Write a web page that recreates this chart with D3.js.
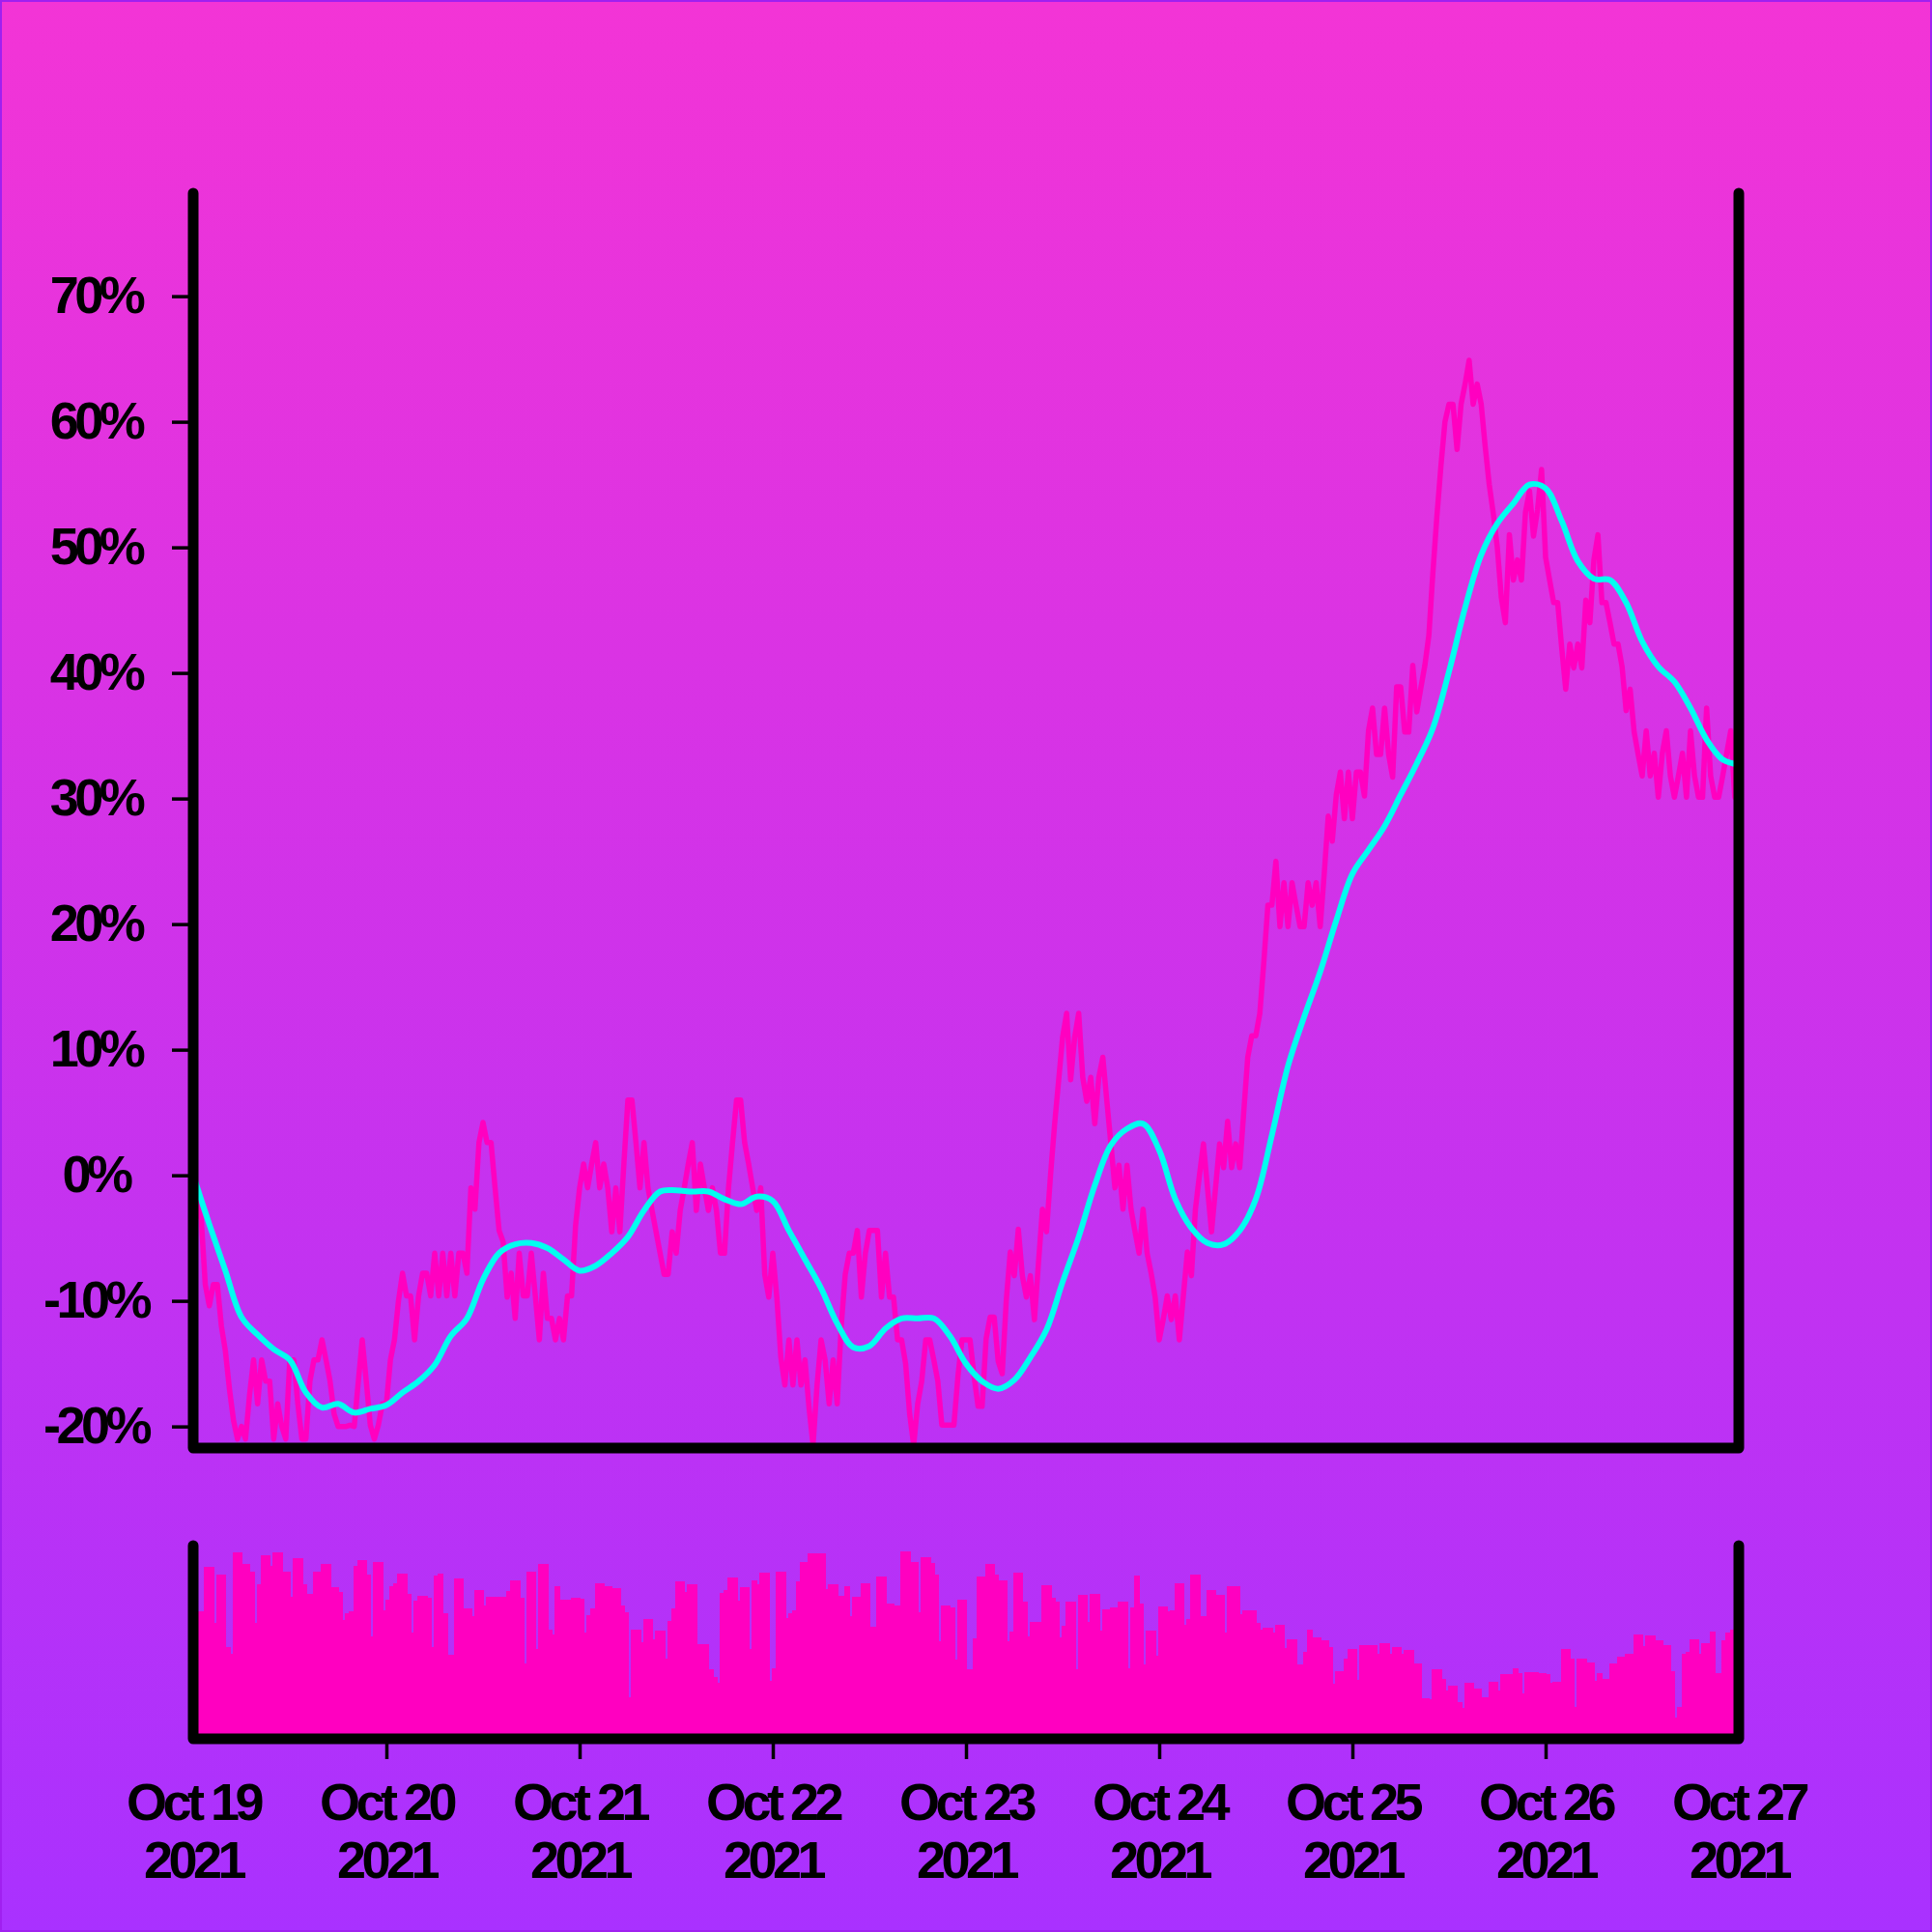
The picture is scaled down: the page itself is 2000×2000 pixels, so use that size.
<!DOCTYPE html>
<html><head><meta charset="utf-8">
<script src="https://cdn.jsdelivr.net/npm/d3@7"></script>
<style>html,body{margin:0;padding:0;background:#fff}</style>
</head><body>
<svg id="chart" width="2000" height="2000"></svg>
<script>
// ---- DATA (half-hourly, Oct 19 2021 00:00 UTC -> Oct 27 2021 00:00 UTC) ----
const startDate = Date.UTC(2021, 9, 19);
const endDate = Date.UTC(2021, 9, 27);
const stepMs = 30 * 60 * 1000;

// % change vs start, every 30 minutes (385 points)
const priceChange = [
0,-2.5,-3.5,-8.7,-10.4,-8.7,-8.7,-12.0,-14.0,-17.0,
-19.5,-21.0,-20.0,-21.0,-17.5,-14.7,-18.2,-14.7,-16.4,-16.4,
-21.0,-18.2,-20.0,-21.0,-14.7,-14.7,-18.2,-21.0,-21.0,-16.4,
-14.7,-14.7,-13.1,-14.7,-16.4,-19.0,-20.0,-20.0,-20.0,-19.9,
-20.0,-16.5,-13.1,-16.4,-19.9,-21.0,-19.9,-18.2,-18.2,
-14.7,-13.1,-10.0,-7.8,-9.6,-9.6,-13.1,-9.6,-7.8,-7.8,
-9.6,-6.2,-9.6,-6.2,-9.6,-6.2,-9.6,-6.2,-6.2,-7.8,
-1.0,-2.7,2.6,4.2,2.6,2.6,-1.0,-4.4,-5.3,-9.7,
-7.8,-11.4,-6.2,-9.6,-9.6,-6.2,-9.6,-13.1,-7.8,-11.4,
-11.4,-13.1,-11.4,-13.1,-9.6,-9.6,-4.0,-1.0,
0.9,-1.0,0.9,2.6,-1.0,0.9,-1.0,-4.5,-1.0,-4.5,
0.9,6.0,6.0,2.6,-1.0,2.6,-1.0,-2.8,-4.5,-6.2,
-7.9,-7.9,-4.5,-6.2,-2.8,-1.0,0.9,2.6,-2.8,0.9,
-1.0,-2.8,-1.0,-2.8,-6.2,-6.2,-1.0,2.6,6.0,6.0,
2.6,0.9,-1.0,-2.8,-1.0,-7.9,-9.7,-6.2,-9.7,-14.5,
-16.7,-13.1,-16.7,-13.1,-16.7,-14.7,-18.5,-21.5,-16.7,-13.1,
-14.7,-18.2,-14.7,-18.2,-12.0,-7.9,-6.2,-6.2,-4.4,-9.7,
-6.2,-4.4,-4.4,-4.4,-9.7,-6.2,-9.7,-9.7,-13.1,-13.1,
-15.0,-19.0,-21.5,-18.2,-16.4,-13.1,-13.1,-14.7,-16.4,-19.9,
-19.9,-19.9,-19.9,-16.0,-13.1,-13.1,
-13.1,-16.0,-18.4,-18.4,-13.0,-11.3,-11.3,-14.8,-15.8,-10.0,
-6.1,-8.0,-4.3,-8.0,-9.7,-8.0,-11.5,-7.0,-2.7,-4.5,
0.0,4.0,7.5,11.0,12.9,7.6,11.0,12.9,7.8,5.9,
7.8,4.1,7.8,9.4,5.9,2.5,-1.0,0.8,-2.7,0.8,
-2.7,-4.5,-6.2,-2.7,-6.2,-7.8,-9.7,-13.1,-11.5,-9.6,
-11.5,-9.6,-13.1,-9.6,-6.1,-8.0,-2.7,0.0,2.5,-1.0,
-4.5,-1.0,2.5,0.6,4.3,0.6,2.5,0.6,5.0,9.4,
11.1,11.1,12.9,17.0,21.5,21.5,25.0,19.8,23.3,19.8,
23.3,21.5,19.8,19.8,23.3,21.5,23.3,19.8,24.0,28.6,
26.6,30.3,
32.1,28.4,32.1,28.4,32.1,32.1,30.2,35.4,37.2,33.5,
33.5,37.2,33.5,31.7,38.9,38.9,
35.3,35.3,40.6,36.9,38.8,40.6,43.0,48.0,52.5,56.5,
60.0,61.4,61.4,57.8,61.4,63.0,64.9,61.4,63.0,61.4,
58.0,55.0,52.7,50.0,46.0,44.0,51.0,47.4,49.0,47.4,
52.8,54.5,50.9,53.0,56.2,49.2,47.4,45.6,45.6,42.0,
38.7,42.3,40.4,42.3,40.4,45.8,44.0,49.0,51.0,45.6,
45.6,44.0,42.3,42.3,40.5,37.0,38.7,35.3,33.5,31.8,
35.4,31.8,33.6,30.1,33.6,35.4,31.8,30.1,31.8,33.6,
30.1,35.4,31.8,30.1,30.1,37.2,31.8,30.1,30.1,31.8,
33.6,35.4,30.1,31.8
];

// smoothed % change, every 2 hours (97 points)
const maStepMs = 2 * 60 * 60 * 1000;
const movingAverage = [
0,-3.9,-7.6,-11.3,-12.7,-13.85,-14.7,-17.3,-18.5,-18.2,
-18.9,-18.6,-18.3,-17.3,-16.4,-15.1,-12.8,-11.4,-8.3,-6.2,
-5.5,-5.4,-5.8,-6.7,-7.6,-7.2,-6.2,-4.9,-2.8,-1.3,
-1.2,-1.3,-1.3,-1.9,-2.3,-1.7,-2.05,-4.4,-6.7,-9.0,
-11.8,-13.7,-13.6,-12.2,-11.4,-11.4,-11.4,-12.8,-15.0,-16.4,
-17.0,-16.3,-14.5,-12.3,-8.5,-4.9,-0.8,2.4,3.7,4.1,
2.0,-1.9,-4.2,-5.4,-5.5,-4.4,-1.9,3.2,8.7,12.6,
16.2,20.3,24.0,25.9,27.8,30.3,32.8,35.6,40.1,45.2,
49.4,51.9,53.5,55.0,54.7,52.1,48.9,47.5,47.4,45.6,
42.5,40.5,39.3,37.2,34.7,33.1,32.7
];

// volume (arbitrary units), per 30-minute interval (384 bars)
const volume = [
65.8,65.8,65.8,89.2,89.2,60,85,85,47.5,44.2,
96.7,96.7,90.3,90.3,86.7,60,80,95,95,89.7,
96.3,96.3,86.3,86.3,73.7,93.7,93.7,80,75,75,
86.3,86.3,90.3,90.3,78.7,78.7,75.8,61.7,65,65.8,
89.7,92.5,92.5,85,53,91.7,91.7,66.7,72,79.2,
80.3,85.5,85.5,75,55,71.3,74.2,74.2,73,47.5,
84.5,85.5,65,43.3,43.3,82.8,82.8,67.5,67.5,63.3,
77,77,68.8,73.3,73.3,73.7,73.7,73.7,76.7,82,
82,72.8,39.2,86.7,86.7,46.7,90.5,90.5,56.7,54.2,
78.8,72,72,72,72.8,72.8,72.5,55,64.2,67.5,
80.3,80.3,78.8,78.8,78,78,69.2,65.3,21.3,56.7,
56.7,50,62.2,62.2,51.7,55.8,56.2,41.3,61.2,67.5,
81.3,81.3,76.2,80,80,49.2,49.2,48.8,35.8,32.2,
29.2,75.3,77,83.3,83.3,71.3,78.3,78.3,46.7,82,
80,85.8,85.8,30,36.7,86.7,86.7,62.5,65,66.7,
81.7,91.7,91.7,95.8,95.8,95.8,95.8,77.5,80,80,
74.2,74.2,78.8,63.3,73.7,73.7,80.3,80.3,57.8,57.8,
84.2,84.2,70,70,69.2,69.2,97,97,91.3,91.3,
65.5,93.8,93.8,91.2,85,50.3,69.2,69.2,68,40.8,
72,72,36.2,36.2,52,84.2,84.2,90.5,90.5,85,
82.2,82.2,50.5,55.5,85.8,85.8,71,53,60.5,60.5,
60.5,79.5,79.5,73,71,52.5,58.3,71,71,36.2,
74.3,74.3,60.7,75.2,75.2,56.2,67,67,68,68,
71,71,36.7,68,84.5,70,38.3,56,56,43,
68.5,68.5,66,66.7,80.5,80.5,59.2,62,85,85,
63.3,63.3,77.2,77.2,74.5,74.5,55,79.2,79.2,79.2,
64.5,66.3,66.3,66.3,60,56.7,57.5,57.5,55,59.2,
59.2,47,51.7,51.7,38.3,38.3,45,56.7,52.5,52.5,
50.8,50.8,47.5,28.3,35,35,41.7,46.7,46.7,30.3,
48.7,48.7,48.7,48.7,43.8,49.5,49.5,43.8,47.5,47.5,
44.2,45.8,45.8,39.2,39.2,20.8,20.8,20.3,36.2,36.2,
30.8,25,27.5,27.5,19.2,15.8,28.8,28.8,26.2,26.2,
21.7,21.7,29.7,29.7,25,33.7,33.7,33.7,36.7,34.2,
23.3,34.5,34.5,34.5,34.2,34.2,33.3,29.2,29.7,29.7,
46.7,46.7,41.7,16.7,41.7,41.7,39.5,39.5,30,33.8,
31.2,31.2,39.2,39.2,42.5,42.5,44.2,44.2,54.2,54.2,
48,53.7,53.7,50.8,50.8,48.3,48.3,35,10.8,16.7,
44.2,45,51.3,51.3,44.2,49.5,49.5,55.3,34.2,34.2,
50.8,55,56.7,56.7
];

const yTickValues = [-20,-10,0,10,20,30,40,50,60,70];
const volumeMax = 100;

// ---- DRAWING ----
const W = 2000, H = 2000;
const m = {left: 200, right: 1800, top: 200, bottom: 1499};
const vol = {top: 1600, bottom: 1800};
const pink = "#ff00c0", cyan = "#00fff0";
const fontFamily = "'Liberation Sans', Arial, Helvetica, sans-serif";

const svg = d3.select("#chart");
const defs = svg.append("defs");
const grad = defs.append("linearGradient").attr("id","bg").attr("x1",0).attr("y1",0).attr("x2",0).attr("y2",1);
grad.append("stop").attr("offset","0%").attr("stop-color","#f334d6");
grad.append("stop").attr("offset","100%").attr("stop-color","#a931ff");
defs.append("clipPath").attr("id","plotClip").append("rect")
  .attr("x", m.left).attr("y", m.top).attr("width", m.right-m.left).attr("height", m.bottom-m.top);
defs.append("clipPath").attr("id","volClip").append("rect")
  .attr("x", m.left).attr("y", vol.top-10).attr("width", m.right-m.left).attr("height", vol.bottom-vol.top+10);

svg.append("rect").attr("width",W).attr("height",H).attr("fill","url(#bg)");
svg.append("rect").attr("x",1).attr("y",1).attr("width",W-2).attr("height",H-2)
  .attr("fill","none").attr("stroke","#a020f0").attr("stroke-width",2);

const x = d3.scaleUtc().domain([startDate, endDate]).range([m.left, m.right]);
const y = d3.scaleLinear().domain([-21.72, 78.2]).range([m.bottom, m.top]);
const yv = d3.scaleLinear().domain([0, volumeMax]).range([vol.bottom, vol.top]);

// volume bars
const stepPx = x(startDate + stepMs) - x(startDate);
const barW = stepPx * 1.5;
svg.append("g").attr("clip-path","url(#volClip)")
  .selectAll("rect").data(volume).join("rect")
  .attr("x", (d,i) => x(startDate + (i + 0.5) * stepMs) - barW/2)
  .attr("width", barW)
  .attr("y", d => yv(d))
  .attr("height", d => vol.bottom - yv(d))
  .attr("fill", pink)
  .attr("shape-rendering","crispEdges");

// price line
const plot = svg.append("g").attr("clip-path","url(#plotClip)");
plot.append("path").datum(priceChange)
  .attr("fill","none").attr("stroke", pink).attr("stroke-width",5.5)
  .attr("stroke-linejoin","round").attr("stroke-linecap","round")
  .attr("d", d3.line().x((d,i) => x(startDate + i*stepMs)).y(d => y(d)));

// moving average line
plot.append("path").datum(movingAverage)
  .attr("fill","none").attr("stroke", cyan).attr("stroke-width",6)
  .attr("stroke-linejoin","round").attr("stroke-linecap","round")
  .attr("d", d3.line().curve(d3.curveCatmullRom).x((d,i) => x(startDate + i*maStepMs)).y(d => y(d)));

// y axis ticks + labels
const yAxis = svg.append("g").attr("transform", `translate(${m.left},0)`)
  .call(d3.axisLeft(y).tickValues(yTickValues).tickSize(22).tickFormat(d => d + "%"));
yAxis.select(".domain").remove();
yAxis.selectAll(".tick line").attr("stroke","#000").attr("stroke-width",3.5);
yAxis.selectAll(".tick text")
  .attr("x", 99 - m.left).attr("dy","0.32em").attr("text-anchor","middle")
  .attr("fill","#000").style("font-family", fontFamily).style("font-weight","bold")
  .style("font-size","54px").style("letter-spacing","-4.5px");

// x axis ticks (under volume panel, inner days only) + two-line labels
const xTicks = x.ticks(d3.utcDay.every(1));
const innerTicks = xTicks.slice(1, -1);
const xAxis = svg.append("g").attr("transform", `translate(0,${vol.bottom})`)
  .call(d3.axisBottom(x).tickValues(innerTicks).tickSize(21).tickFormat(""));
xAxis.select(".domain").remove();
xAxis.selectAll(".tick line").attr("stroke","#000").attr("stroke-width",3.5);
const fmtMD = d3.utcFormat("%b %-d"), fmtY = d3.utcFormat("%Y");
const lbl = svg.append("g").attr("fill","#000")
  .style("font-family", fontFamily).style("font-weight","bold")
  .style("font-size","54px").style("letter-spacing","-4.5px").attr("text-anchor","middle");
xTicks.forEach(t => {
  lbl.append("text").attr("x", x(t)).attr("y", 1884).text(fmtMD(t));
  lbl.append("text").attr("x", x(t)).attr("y", 1944).text(fmtY(t));
});

// frames
const frame = (top, bottom) => `M${m.left},${top}L${m.left},${bottom}L${m.right},${bottom}L${m.right},${top}`;
svg.append("path").attr("d", frame(m.top, m.bottom)).attr("fill","none").attr("stroke","#000")
  .attr("stroke-width",11).attr("stroke-linecap","round").attr("stroke-linejoin","round");
svg.append("path").attr("d", frame(vol.top, vol.bottom)).attr("fill","none").attr("stroke","#000")
  .attr("stroke-width",11).attr("stroke-linecap","round").attr("stroke-linejoin","round");
</script>
</body></html>
